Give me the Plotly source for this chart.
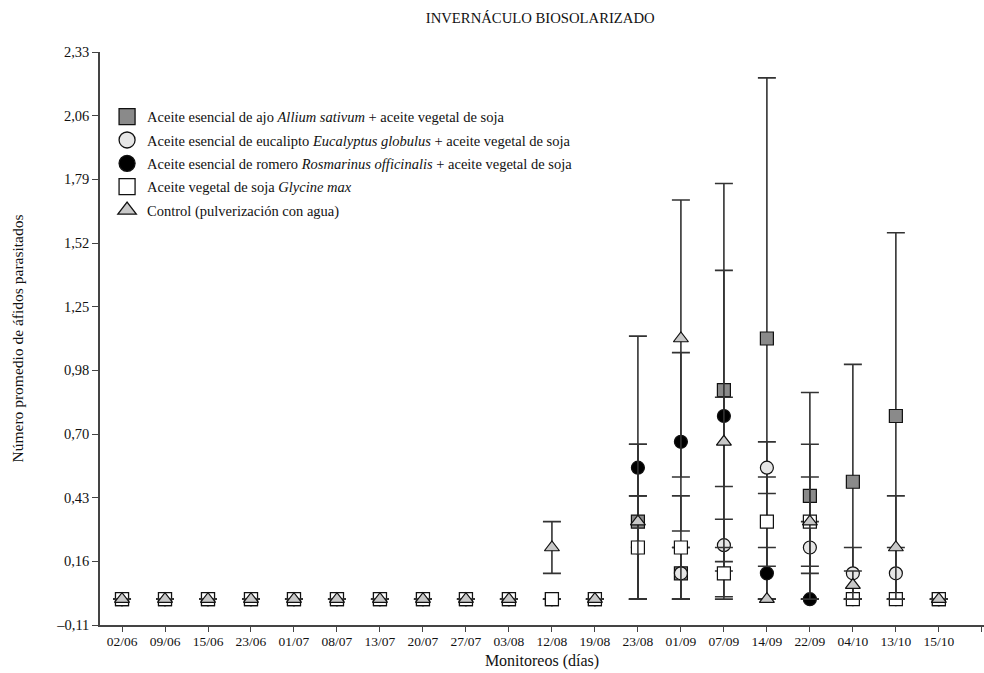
import plotly.graph_objects as go

# Monitoring dates (x categories)
dates = ["02/06", "09/06", "15/06", "23/06", "01/07", "08/07", "13/07", "20/07",
         "27/07", "03/08", "12/08", "19/08", "23/08", "01/09", "07/09", "14/09",
         "22/09", "04/10", "13/10", "15/10"]

# Mean number of parasitised aphids and standard error per treatment
ajo_mean = [0, 0, 0, 0, 0, 0, 0, 0, 0, 0, 0, 0, 0.33, 0.11, 0.89, 1.11, 0.44, 0.50, 0.78, 0]
ajo_se = [0, 0, 0, 0, 0, 0, 0, 0, 0, 0, 0, 0, 0.33, 0.11, 0.88, 1.11, 0.44, 0.50, 0.78, 0]

euc_mean = [0, 0, 0, 0, 0, 0, 0, 0, 0, 0, 0, 0, 0.22, 0.11, 0.23, 0.56, 0.22, 0.11, 0.11, 0]
euc_se = [0, 0, 0, 0, 0, 0, 0, 0, 0, 0, 0, 0, 0.22, 0.11, 0.11, 0.11, 0.11, 0.11, 0.11, 0]

rom_mean = [0, 0, 0, 0, 0, 0, 0, 0, 0, 0, 0, 0, 0.56, 0.67, 0.78, 0.11, 0, 0, 0, 0]
rom_se = [0, 0, 0, 0, 0, 0, 0, 0, 0, 0, 0, 0, 0.56, 0.38, 0.62, 0.11, 0, 0, 0, 0]

soja_mean = [0, 0, 0, 0, 0, 0, 0, 0, 0, 0, 0, 0, 0.22, 0.22, 0.11, 0.33, 0.33, 0, 0, 0]
soja_se = [0, 0, 0, 0, 0, 0, 0, 0, 0, 0, 0, 0, 0.22, 0.22, 0.11, 0.19, 0.33, 0, 0, 0]

ctrl_mean = [0, 0, 0, 0, 0, 0, 0, 0, 0, 0, 0.22, 0, 0.33, 1.11, 0.67, 0, 0.33, 0.06, 0.22, 0]
ctrl_se = [0, 0, 0, 0, 0, 0, 0, 0, 0, 0, 0.11, 0, 0.33, 0.59, 0.19, 0, 0.19, 0.06, 0.22, 0]

# y axis tick labels (evenly spaced between -0,11 and 2,33)
y_labels = ["\u20130,11", "0,16", "0,43", "0,70", "0,98", "1,25", "1,52", "1,79", "2,06", "2,33"]
y_min, y_max = -0.11, 2.33

FONT = "Liberation Serif, Times New Roman, serif"
INK = "#111111"
x = list(range(len(dates)))

series = [
    ("Aceite esencial de ajo <i>Allium sativum</i> + aceite vegetal de soja",
     ajo_mean, ajo_se, "square", "#8a8a8a"),
    ("Aceite esencial de eucalipto <i>Eucalyptus globulus</i> + aceite vegetal de soja",
     euc_mean, euc_se, "circle", "#e6e6e6"),
    ("Aceite esencial de romero <i>Rosmarinus officinalis</i> + aceite vegetal de soja",
     rom_mean, rom_se, "circle", "#000000"),
    ("Aceite vegetal de soja <i>Glycine max</i>",
     soja_mean, soja_se, "square", "#ffffff"),
    ("Control (pulverización con agua)",
     ctrl_mean, ctrl_se, "triangle-up", "#c8c8c8"),
]

fig = go.Figure()
for i, (name, mean, se, symbol, fill) in enumerate(series):
    # lower whisker stops at zero
    minus = [min(s, m) for s, m in zip(se, mean)]
    fig.add_trace(go.Scatter(
        x=x, y=mean, mode="markers", name=name, showlegend=False,
        marker=dict(symbol=symbol, size=13, color=fill,
                    line=dict(color=INK, width=1.2)),
        error_y=dict(type="data", array=se, arrayminus=minus, symmetric=False,
                     color="#333333", thickness=1.6, width=9),
    ))

# legend keys drawn with larger symbols
for i, (name, mean, se, symbol, fill) in enumerate(series):
    fig.add_trace(go.Scatter(
        x=[None], y=[None], mode="markers", name=name, legendgroup=f"g{i}",
        marker=dict(symbol=symbol, size=17, color=fill,
                    line=dict(color=INK, width=1.3)),
    ))

step = (y_max - y_min) / (len(y_labels) - 1)
y_ticks = [y_min + k * step for k in range(len(y_labels))]

fig.update_layout(
    width=984, height=673,
    margin=dict(l=100, r=0, t=52, b=48),
    paper_bgcolor="white", plot_bgcolor="white",
    font=dict(family=FONT, size=14, color=INK),
    title=dict(text="INVERNÁCULO BIOSOLARIZADO", x=0.549, xanchor="center",
               y=0.973, yanchor="middle", yref="container",
               font=dict(family=FONT, size=14.7, color=INK)),
    showlegend=True,
    legend=dict(x=0.008, y=0.915, xanchor="left", yanchor="top",
                bgcolor="rgba(0,0,0,0)", tracegroupgap=1.5,
                font=dict(family=FONT, size=14.5, color=INK),
                itemsizing="trace"),
    xaxis=dict(
        range=[-0.512, 20.05], tickmode="array",
        tickvals=list(range(len(dates) + 1)), ticktext=dates + [""],
        showline=True, linecolor="#444444", linewidth=1.5,
        ticks="outside", ticklen=5, tickcolor="#444444", tickwidth=1,
        ticklabelstandoff=-2,
        showgrid=False, zeroline=False,
        tickfont=dict(family=FONT, size=13.5, color=INK),
        title=dict(text="Monitoreos (días)", standoff=7,
                   font=dict(family=FONT, size=16, color=INK)),
    ),
    yaxis=dict(
        range=[y_min, y_max], tickmode="array",
        tickvals=y_ticks, ticktext=y_labels,
        showline=True, linecolor="#444444", linewidth=1.5,
        ticks="outside", ticklen=6, tickcolor="#444444", tickwidth=1,
        showgrid=False, zeroline=False,
        tickfont=dict(family=FONT, size=14.5, color=INK),
        title=dict(text="Número promedio de áfidos parasitados", standoff=29,
                   font=dict(family=FONT, size=15.5, color=INK)),
    ),
)

fig.write_html("out.html")
